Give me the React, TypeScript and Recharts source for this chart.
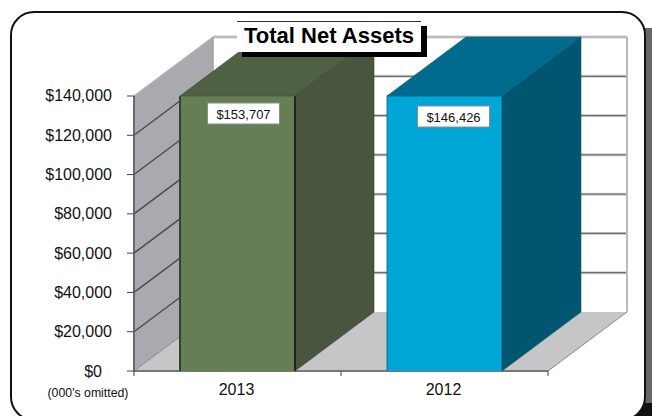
import React from "react";
import { BarChart, Bar, XAxis, YAxis, ReferenceArea, LabelList } from "recharts";

const categories = ["2013", "2012"];
const netAssets = [153707, 146426];
const yTicks = [0, 20000, 40000, 60000, 80000, 100000, 120000, 140000];

const rows = categories.map((year, i) => ({ year, value: netAssets[i] }));

const AXIS_CAP = 140000;
const DOMAIN_MAX = 160000;
const DX = 79;
const DY = -59;
const FONT = '"Liberation Sans", Arial, sans-serif';

const fronts = ["#667E56", "#00A6D6"];
const tops = ["#4F6142", "#006B8E"];
const sides = ["#4A5540", "#005670"];
const edges = ["#3A3F34", "#0F5A70"];
const labelShift = [[6, 7], [9, 10]];

const money = (v: number) => "$" + v.toLocaleString("en-US");

function Walls(props: any) {
  const { x, y, width, height } = props;
  const bottom = y + height;
  const right = x + width;
  const bx = x + DX;
  const brx = right + DX;
  const tickY = (t: number) => bottom - (t / AXIS_CAP) * height;
  return (
    <g>
      <polygon points={`${bx},${y + DY} ${brx},${y + DY} ${brx},${bottom + DY} ${bx},${bottom + DY}`} fill="#fff" />
      <polygon points={`${x},${y} ${bx},${y + DY} ${bx},${bottom + DY} ${x},${bottom}`} fill="#A9A9AE" />
      <polygon points={`${x},${bottom} ${bx},${bottom + DY} ${brx},${bottom + DY} ${right},${bottom}`} fill="#C6C6C9" />
      {yTicks.filter((t) => t > 0).map((t) => (
        <g key={t}>
          <line x1={x} y1={tickY(t)} x2={bx} y2={tickY(t) + DY} stroke={t === AXIS_CAP ? "#B5B5B8" : "#4A4A4E"} strokeWidth={1.4} />
          <line x1={bx} y1={tickY(t) + DY} x2={brx} y2={tickY(t) + DY} stroke="#CFCFCF" strokeWidth={3} />
          <line x1={bx} y1={tickY(t) + DY} x2={brx} y2={tickY(t) + DY} stroke={t === AXIS_CAP ? "#A8A8A8" : "#6E6E6E"} strokeWidth={1.2} />
        </g>
      ))}
      <line x1={brx} y1={y + DY} x2={brx} y2={bottom + DY} stroke="#BBBBBB" strokeWidth={2} />
      <line x1={bx} y1={y + DY} x2={bx} y2={bottom + DY} stroke="#A0A0A4" strokeWidth={1.5} />
      <line x1={right} y1={bottom} x2={brx} y2={bottom + DY} stroke="#8A8A8A" strokeWidth={1} />
      <line x1={x} y1={bottom} x2={bx} y2={bottom + DY} stroke="#8A8A8A" strokeWidth={1} />
      <line x1={x} y1={y} x2={x} y2={bottom} stroke="#6A6A6E" strokeWidth={2} />
      <line x1={x - 1} y1={bottom} x2={right} y2={bottom} stroke="#77777B" strokeWidth={2} />
      {[0, 1, 2].map((i) => {
        const tx = x + (width * i) / categories.length;
        return <line key={i} x1={tx} y1={bottom} x2={tx} y2={bottom + 5} stroke="#444" strokeWidth={1} />;
      })}
    </g>
  );
}

function Box3D(props: any) {
  const { x, y, width, height, index, background } = props;
  const bottom = y + height;
  const capY = background.y + background.height * (1 - AXIS_CAP / DOMAIN_MAX);
  const top = Math.max(y, capY);
  const right = x + width;
  return (
    <g>
      <polygon points={`${x},${top} ${x + DX},${top + DY} ${right + DX},${top + DY} ${right},${top}`} fill={tops[index]} stroke={edges[index]} strokeWidth={0.6} />
      <polygon points={`${right},${top} ${right + DX},${top + DY} ${right + DX},${bottom + DY} ${right},${bottom}`} fill={sides[index]} stroke={edges[index]} strokeWidth={0.6} />
      <rect x={x} y={top} width={width} height={bottom - top} fill={fronts[index]} />
      <line x1={x} y1={top} x2={x} y2={bottom} stroke={edges[index]} strokeWidth={index === 0 ? 2 : 0.8} />
      <line x1={right} y1={top} x2={right} y2={bottom} stroke={index === 0 ? "#222" : edges[index]} strokeWidth={index === 0 ? 2 : 0.8} />
      <line x1={x} y1={top} x2={right} y2={top} stroke={tops[index]} strokeWidth={1} />
    </g>
  );
}

function ValueLabel(props: any) {
  const { x, width, index, value, viewBox } = props;
  const bx = x ?? viewBox?.x;
  const bw = width ?? viewBox?.width;
  const cx = bx + bw / 2 + labelShift[index][0];
  const plotTop = 95 + labelShift[index][1];
  return (
    <g>
      <rect x={cx - 36} y={plotTop + 1} width={72} height={21} fill="#fff" stroke="#8C8C8C" strokeWidth={1} />
      <text x={cx} y={plotTop + 16.5} textAnchor="middle" fontSize={13} fontFamily={FONT} fill="#111">
        {money(value)}
      </text>
    </g>
  );
}

function YTick(props: any) {
  const { x, y, payload } = props;
  const shift = payload.value === 0 ? -10 : 0;
  return (
    <text x={x + shift} y={y + 5.5} textAnchor="end" fontSize={16} fontFamily={FONT} fill="#111">
      {money(payload.value)}
    </text>
  );
}

export default function App() {
  return (
    <div style={{ position: "absolute", left: 0, top: 0, width: 652, height: 416, overflow: "hidden", background: "#fff", fontFamily: FONT }}>
      <div style={{ position: "absolute", left: 620, top: 28, width: 32, height: 388, background: "#666" }} />
      <div style={{ position: "absolute", left: 620, top: 403, width: 32, height: 13, background: "#111" }} />
      <div style={{ position: "absolute", left: 10, top: 11, width: 632, height: 406, border: "2px solid #111", borderRadius: 24, background: "#fff" }} />
      <div style={{ position: "absolute", left: 0, top: 0 }}>
        <BarChart width={652} height={416} data={rows} margin={{ top: 56.7, right: 104, bottom: 15, left: 0 }} barSize={115}>
          <XAxis dataKey="year" tickLine={false} axisLine={false} tick={{ fontSize: 16, fontFamily: FONT, fill: "#111", dx: -1 }} tickMargin={7} />
          <YAxis type="number" domain={[0, DOMAIN_MAX]} ticks={yTicks} interval={0} width={134} tickSize={7} tickMargin={15} tick={<YTick />} axisLine={false} tickLine={{ stroke: "#444" }} />
          <ReferenceArea y1={0} y2={AXIS_CAP} shape={<Walls />} fill="none" stroke="none" />
          <Bar dataKey="value" isAnimationActive={false} shape={<Box3D />} background={false as any}>
            <LabelList dataKey="value" content={<ValueLabel />} />
          </Bar>
        </BarChart>
      </div>
      <div style={{ position: "absolute", left: 242, top: 26, width: 185, height: 31, background: "#000" }} />
      <div style={{ position: "absolute", left: 237, top: 21, width: 184, height: 31, background: "#fff", borderTop: "1.5px solid #333", boxSizing: "border-box", textAlign: "center", fontSize: 22, fontWeight: 700, lineHeight: "28px", color: "#000" }}>
        Total Net Assets
      </div>
      <div style={{ position: "absolute", left: 30, width: 116, top: 386, textAlign: "center", fontSize: 12.3, color: "#111", lineHeight: "15px" }}>
        (000's omitted)
      </div>
    </div>
  );
}
